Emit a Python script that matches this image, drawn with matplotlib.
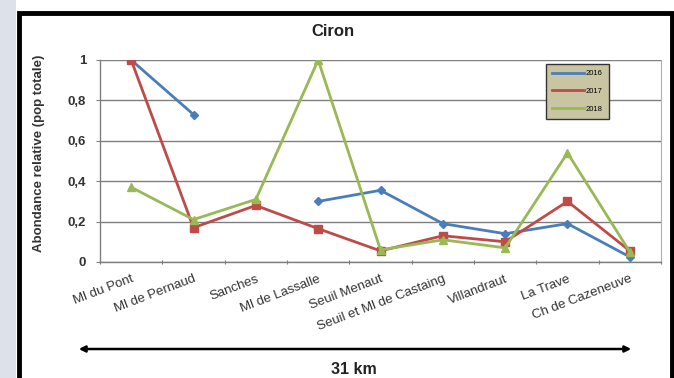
import matplotlib
matplotlib.use("Agg")
import matplotlib.pyplot as plt
from matplotlib.patches import Rectangle, FancyArrowPatch
import numpy as np

plt.rcParams['font.family'] = ['Liberation Sans', 'DejaVu Sans']

sites = ["Ml du Pont", "Ml de Pernaud", "Sanches", "Ml de Lassalle", "Seuil Menaut",
         "Seuil et Ml de Castaing", "Villandraut", "La Trave", "Ch de Cazeneuve"]
years = ["2016", "2017", "2018"]
abund_2016 = [1.0, 0.73, None, 0.30, 0.355, 0.19, 0.14, 0.19, 0.025]
abund_2017 = [1.0, 0.17, 0.28, 0.165, 0.055, 0.13, 0.10, 0.30, 0.055]
abund_2018 = [0.37, 0.21, 0.31, 1.0, 0.06, 0.11, 0.07, 0.54, 0.05]
yticks = [0, 0.2, 0.4, 0.6, 0.8, 1]
ytick_labels = ["0", "0,2", "0,4", "0,6", "0,8", "1"]

W, H = 674, 378
fig = plt.figure(figsize=(W / 100, H / 100), dpi=100)
fig.patch.set_facecolor("white")


def fx(px):
    return px / W


def fy(py):
    return 1 - py / H


# side strip and black frame (behind the axes)
fig.add_artist(Rectangle((0, 0), fx(16), 1, transform=fig.transFigure,
                         facecolor="#dde2ea", edgecolor="none", zorder=-2))
fig.add_artist(Rectangle((fx(18.5), fy(400)), fx(671.5) - fx(18.5), fy(12.5) - fy(400),
                         transform=fig.transFigure, facecolor="white",
                         edgecolor="black", linewidth=3.5, zorder=-1))

ax = fig.add_axes([fx(100), fy(262), fx(661) - fx(100), fy(60) - fy(262)])
ax.set_facecolor("white")
ax.set_zorder(1)

x = np.arange(len(sites)) + 0.5
series = [
    (abund_2016, "#4a7ebb", "D", 4.5),
    (abund_2017, "#be4b48", "s", 5.5),
    (abund_2018, "#98b954", "^", 5.5),
]
handles = []
for (vals, color, marker, ms), label in zip(series, years):
    v = np.array([np.nan if a is None else a for a in vals], dtype=float)
    h, = ax.plot(x, v, color=color, linewidth=2.0, marker=marker, markersize=ms,
                 markeredgecolor=color, label=label, zorder=3)
    handles.append(h)

ax.set_xlim(0, len(sites))
ax.set_ylim(0, 1)
ax.set_yticks(yticks)
ax.set_yticklabels(ytick_labels, fontsize=9.5, fontweight="bold", color="#333333")
ax.yaxis.grid(True, color="#7f7f7f", linewidth=1.0)
ax.set_axisbelow(True)

ax.set_xticks(np.arange(len(sites) + 1))
ax.set_xticklabels([])
ax.set_xticks(x, minor=True)
ax.set_xticklabels(sites, minor=True, rotation=21, ha="right", va="top",
                   rotation_mode="anchor", fontsize=9.5, color="#333333")
ax.tick_params(axis="x", which="minor", length=0, pad=8)
ax.tick_params(axis="x", which="major", length=3, direction="inout", color="#7f7f7f")
ax.tick_params(axis="y", length=3, direction="out", color="#7f7f7f", pad=7)

for side in ["left", "bottom"]:
    ax.spines[side].set_color("#7f7f7f")
    ax.spines[side].set_linewidth(1.0)
ax.spines["right"].set_color("#b0b0b0")
ax.spines["right"].set_linewidth(0.8)
ax.spines["top"].set_visible(False)

fig.text(fx(39), fy(153), "Abondance relative (pop totale)", rotation=90,
         ha="center", va="center", fontsize=9.5, fontweight="bold", color="#333333")

fig.text(fx(333), fy(31), "Ciron", ha="center", va="center", fontsize=12,
         fontweight="bold", color="#222222")

leg = ax.legend(handles=handles, loc="upper left",
                bbox_to_anchor=((546 - 100) / 561, 1 - (64 - 60) / 202),
                fontsize=5.5, frameon=True, handlelength=4.2, handletextpad=0.2,
                borderpad=0.8, labelspacing=1.35, fancybox=False, borderaxespad=0)
for lh in leg.get_lines():
    lh.set_marker("")
frame = leg.get_frame()
frame.set_facecolor("#c9c5a3")
frame.set_edgecolor("#333333")
frame.set_linewidth(1.0)
frame.set_alpha(1)

# distance arrow
arrow = FancyArrowPatch((fx(76), fy(349)), (fx(634), fy(349)),
                        transform=fig.transFigure, arrowstyle="<|-|>",
                        mutation_scale=9, color="black", linewidth=1.8)
fig.add_artist(arrow)
fig.text(fx(354), fy(370), "31 km", ha="center", va="center", fontsize=11.5,
         fontweight="bold", color="#222222")

fig.savefig("out.png", dpi=100)
